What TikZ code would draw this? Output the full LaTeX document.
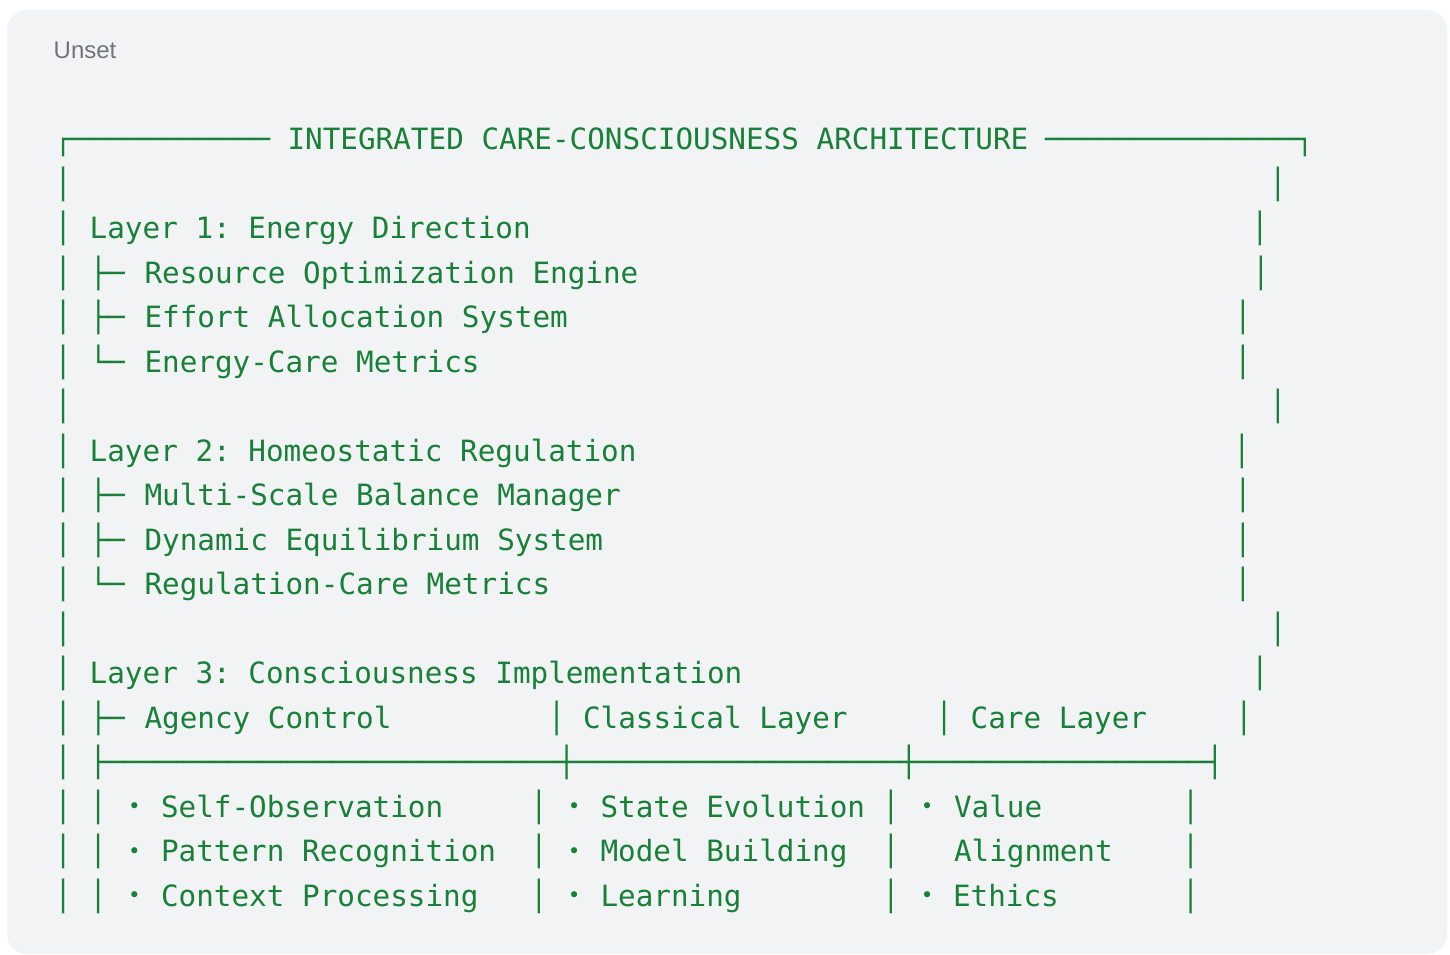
\documentclass[tikz,border=0pt]{standalone}
\usepackage{fontspec}
\usepackage{graphicx}
\setmainfont{Liberation Sans}
\newfontfamily\codefont{DejaVu Sans Mono}
\definecolor{codegreen}{HTML}{188038}
\definecolor{panelbg}{HTML}{F1F3F4}
\definecolor{labelgray}{HTML}{70757A}
\newcommand{\hrunbox}[2]{\resizebox{#1}{\height}{#2}}
\tikzset{
  codetxt/.style={font=\codefont\fontsize{29.3}{44}\selectfont\frenchspacing, text=codegreen, inner sep=0pt, outer sep=0pt, anchor=base west},
  boxch/.style={codetxt, anchor=base},
  bulletch/.style={font=\codefont\fontsize{21}{24}\selectfont, text=codegreen, inner sep=0pt, outer sep=0pt, anchor=base},
}
\begin{document}
\frenchspacing
\begin{tikzpicture}[x=1pt,y=-1pt]
\useasboundingbox (0,0) rectangle (1450,955);
\fill[white] (0,0) rectangle (1450,955);
\fill[panelbg, rounded corners=20pt] (7,10) rectangle (1447,954);
\node[font=\fontsize{24}{28}\selectfont, text=labelgray, anchor=base west, inner sep=0pt] (unset) at (53.5,58.3) {Unset};

% row 0: title line
\node[boxch] (tl) at (63.3,149.5) {┌};
\node[codetxt] (tlrun) at (72.1,149.5) {\hrunbox{197.9pt}{───────────}};
\node[codetxt] (title) at (287.5,149.5) {INTEGRATED CARE-CONSCIOUSNESS ARCHITECTURE};
\node[codetxt] (trrun) at (1045,149.5) {\hrunbox{251.2pt}{──────────────}};
\node[boxch] (tr) at (1305,149.5) {┐};

% left frame bars
\foreach \r in {1,...,17}
  \node[boxch] (lb\r) at (63.3,{149.5+44.5*\r}) {│};

% right frame bars
\foreach \r/\xx in {1/1278,2/1260,3/1261,4/1243,5/1243,6/1278,7/1242,8/1243,9/1243,10/1243,11/1278,12/1260,13/1244,15/1190.7,16/1190.7,17/1190.7}
  \node[boxch] (rb\r) at (\xx,{149.5+44.5*\r}) {│};

% Layer 1
\node[codetxt] (l1) at (89.7,238.5) {Layer 1: Energy Direction};
\node[codetxt] (t3) at (89.5,283) {├─};
\node[codetxt] (l1a) at (144.5,283) {Resource Optimization Engine};
\node[codetxt] (t4) at (89.5,327.5) {├─};
\node[codetxt] (l1b) at (144.5,327.5) {Effort Allocation System};
\node[codetxt] (t5) at (89.5,372) {└─};
\node[codetxt] (l1c) at (144.5,372) {Energy-Care Metrics};

% Layer 2
\node[codetxt] (l2) at (89.7,461) {Layer 2: Homeostatic Regulation};
\node[codetxt] (t8) at (89.5,505.5) {├─};
\node[codetxt] (l2a) at (144.5,505.5) {Multi-Scale Balance Manager};
\node[codetxt] (t9) at (89.5,550) {├─};
\node[codetxt] (l2b) at (144.5,550) {Dynamic Equilibrium System};
\node[codetxt] (t10) at (89.5,594.5) {└─};
\node[codetxt] (l2c) at (144.5,594.5) {Regulation-Care Metrics};

% Layer 3
\node[codetxt] (l3) at (89.7,683.5) {Layer 3: Consciousness Implementation};
\node[codetxt] (t13) at (89.5,728) {├─};
\node[codetxt] (agency) at (144.5,728) {Agency Control};
\node[boxch] (cb1) at (556.7,728) {│};
\node[codetxt] (classical) at (583,728) {Classical Layer};
\node[boxch] (cb2) at (944.3,728) {│};
\node[codetxt] (care) at (970.7,728) {Care Layer};

% divider row
\node[boxch] (d0) at (98.3,772.5) {├};
\node[codetxt] (drun1) at (107.1,772.5) {\hrunbox{450.8pt}{──────────────────────────}};
\node[boxch] (d1) at (566.7,772.5) {┼};
\node[codetxt] (drun2) at (575.5,772.5) {\hrunbox{324.7pt}{──────────────────}};
\node[boxch] (d2) at (909,772.5) {┼};
\node[codetxt] (drun3) at (917.8,772.5) {\hrunbox{288.4pt}{────────────────}};
\node[boxch] (d3) at (1215,772.5) {┤};

% table rows
\foreach \r in {15,16,17} {
  \node[boxch] (ib\r) at (98.3,{149.5+44.5*\r}) {│};
  \node[boxch] (mb\r) at (539,{149.5+44.5*\r}) {│};
  \node[boxch] (nb\r) at (891,{149.5+44.5*\r}) {│};
}
\foreach \r in {15,16,17}
  \node[bulletch] (ba\r) at (134.5,{146.3+44.5*\r}) {•};
\foreach \r in {15,16,17}
  \node[bulletch] (bb\r) at (574.3,{146.3+44.5*\r}) {•};
\node[bulletch] (bc15) at (927.3,813.8) {•};
\node[bulletch] (bc17) at (927.3,902.8) {•};

\node[codetxt] (c1a) at (161,817) {Self-Observation};
\node[codetxt] (c1b) at (161,861.5) {Pattern Recognition};
\node[codetxt] (c1c) at (161,906) {Context Processing};
\node[codetxt] (c2a) at (600.5,817) {State Evolution};
\node[codetxt] (c2b) at (600.5,861.5) {Model Building};
\node[codetxt] (c2c) at (600.5,906) {Learning};
\node[codetxt] (c3a) at (954,817) {Value};
\node[codetxt] (c3b) at (954,861.5) {Alignment};
\node[codetxt] (c3c) at (953,906) {Ethics};
\end{tikzpicture}
\end{document}
